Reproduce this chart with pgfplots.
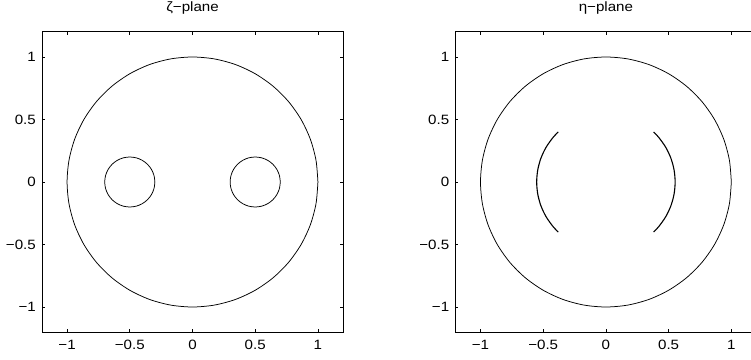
\documentclass[border=0pt]{standalone}
\usepackage{pgfplots}
\usepackage{pgfplotstable}
\pgfplotsset{compat=1.18}
\usepackage{fontspec}
\setmainfont{Liberation Sans}[FakeStretch=1.12]

\pgfplotstableread{
x y
1 0
0.9848 0.1736
0.9397 0.3420
0.8660 0.5000
0.7660 0.6428
0.6428 0.7660
0.5000 0.8660
0.3420 0.9397
0.1736 0.9848
0 1
-0.1736 0.9848
-0.3420 0.9397
-0.5000 0.8660
-0.6428 0.7660
-0.7660 0.6428
-0.8660 0.5000
-0.9397 0.3420
-0.9848 0.1736
-1 0
-0.9848 -0.1736
-0.9397 -0.3420
-0.8660 -0.5000
-0.7660 -0.6428
-0.6428 -0.7660
-0.5000 -0.8660
-0.3420 -0.9397
-0.1736 -0.9848
0 -1
0.1736 -0.9848
0.3420 -0.9397
0.5000 -0.8660
0.6428 -0.7660
0.7660 -0.6428
0.8660 -0.5000
0.9397 -0.3420
0.9848 -0.1736
1 0
}\unitcircle

\pgfplotstableread{
x y
0.7 0
0.6932 0.0518
0.6732 0.1
0.6414 0.1414
0.6 0.1732
0.5518 0.1932
0.5 0.2
0.4482 0.1932
0.4 0.1732
0.3586 0.1414
0.3268 0.1
0.3068 0.0518
0.3 0
0.3068 -0.0518
0.3268 -0.1
0.3586 -0.1414
0.4 -0.1732
0.4482 -0.1932
0.5 -0.2
0.5518 -0.1932
0.6 -0.1732
0.6414 -0.1414
0.6732 -0.1
0.6932 -0.0518
0.7 0
}\rightcircle

\pgfplotstableread{
x y
-0.3 0
-0.3068 0.0518
-0.3268 0.1
-0.3586 0.1414
-0.4 0.1732
-0.4482 0.1932
-0.5 0.2
-0.5518 0.1932
-0.6 0.1732
-0.6414 0.1414
-0.6732 0.1
-0.6932 0.0518
-0.7 0
-0.6932 -0.0518
-0.6732 -0.1
-0.6414 -0.1414
-0.6 -0.1732
-0.5518 -0.1932
-0.5 -0.2
-0.4482 -0.1932
-0.4 -0.1732
-0.3586 -0.1414
-0.3268 -0.1
-0.3068 -0.0518
-0.3 0
}\leftcircle

\pgfplotstableread{
x y
0.380 -0.4004
0.4228 -0.3548
0.4780 -0.276
0.5187 -0.1888
0.5436 -0.0958
0.552 0
0.5436 0.0958
0.5187 0.1888
0.4780 0.276
0.4228 0.3548
0.380 0.4004
}\rightarc

\pgfplotstableread{
x y
-0.380 -0.4004
-0.4228 -0.3548
-0.4780 -0.276
-0.5187 -0.1888
-0.5436 -0.0958
-0.552 0
-0.5436 0.0958
-0.5187 0.1888
-0.4780 0.276
-0.4228 0.3548
-0.380 0.4004
}\leftarc

\pgfplotsset{
  planeaxis/.style={
    scale only axis,
    width=301pt, height=300pt,
    anchor=south west,
    xmin=-1.2, xmax=1.2, ymin=-1.2, ymax=1.2,
    xtick={-1,-0.5,0,0.5,1},
    ytick={-1,-0.5,0,0.5,1},
    xticklabels={−1,−0.5,0,0.5,1},
    yticklabels={−1,−0.5,0,0.5,1},
    tick align=inside,
    tick pos=both,
    major tick length=3pt,
    tick style={black, line width=0.6pt},
    axis line style={black, line width=1pt},
    every tick label/.append style={font=\fontsize{13.5}{15}\selectfont},
    xticklabel style={anchor=base, yshift=-17pt},
    yticklabel style={anchor=east, inner sep=0pt, xshift=-6pt},
    title style={at={(0.5,1)}, anchor=base, yshift=14pt, inner sep=0pt, font=\fontsize{13.5}{15}\selectfont},
    clip=false,
  },
  curve/.style={black, line width=0.75pt, smooth, no markers},
}

\begin{document}
\begin{tikzpicture}
\useasboundingbox (0pt,0pt) rectangle (751pt,359pt);
\clip (0pt,0pt) rectangle (751pt,359pt);
\begin{axis}[planeaxis, at={(42pt,27pt)}, title={ζ−plane}]
\addplot[curve] table {\unitcircle};
\addplot[curve] table {\leftcircle};
\addplot[curve] table {\rightcircle};
\end{axis}
\begin{axis}[planeaxis, at={(455.4pt,27pt)}, title={η−plane}]
\addplot[curve] table {\unitcircle};
\addplot[curve, line width=1.1pt] table {\leftarc};
\addplot[curve, line width=1.1pt] table {\rightarc};
\end{axis}
\end{tikzpicture}
\end{document}
